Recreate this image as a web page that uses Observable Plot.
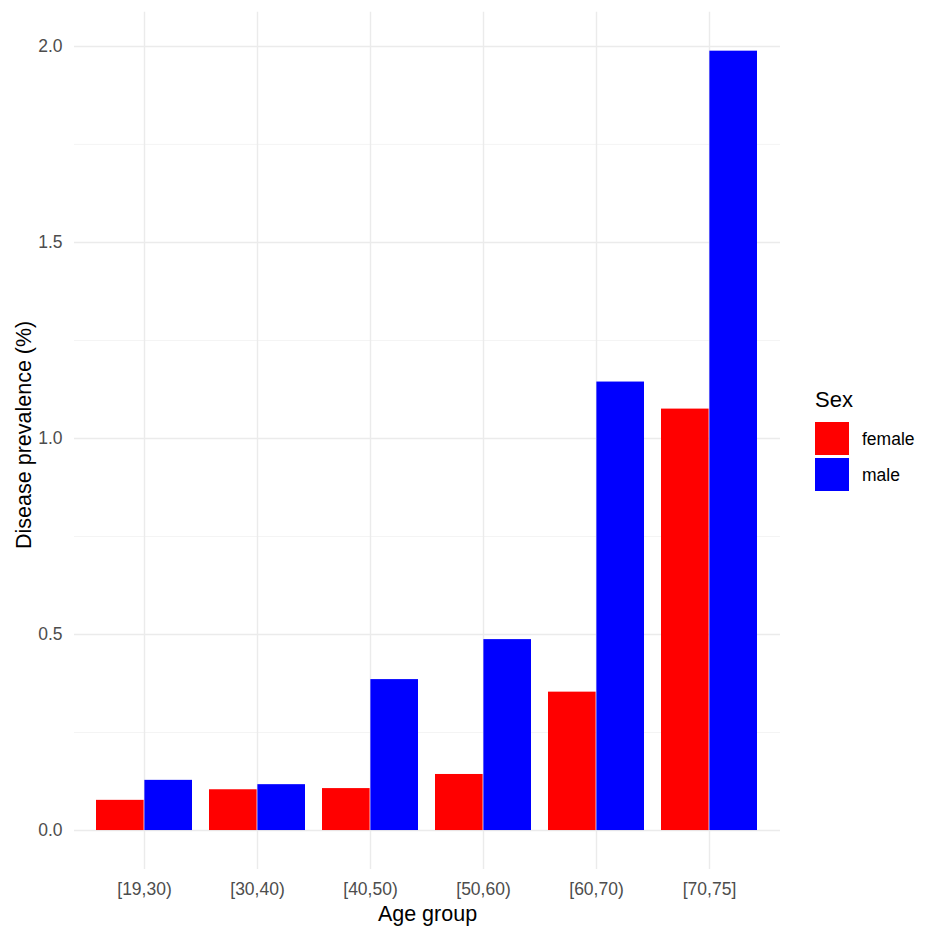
<!DOCTYPE html>
<html>
<head>
<meta charset="utf-8">
<script src="https://cdn.jsdelivr.net/npm/d3@7"></script>
<script src="https://cdn.jsdelivr.net/npm/@observablehq/plot@0.6"></script>
<style>
  body { margin: 0; background: #fff; font-family: "Liberation Sans", Arial, sans-serif; }
  #wrap { position: relative; width: 938px; height: 937px; }
  #legend { position: absolute; left: 815px; top: 389px; color: #000; }
  #legend .title { font-size: 22px; line-height: 22px; height: 33px; }
  #legend .row { display: flex; align-items: center; height: 33px; margin-bottom: 3px; }
  #legend .key { width: 34px; height: 33px; }
  #legend .lab { font-size: 17.5px; line-height: 17.5px; margin-left: 13px; padding-top: 3px; }
</style>
</head>
<body>
<div id="wrap"></div>
<script>
// ---- data ----
const ageGroups = ["[19,30)", "[30,40)", "[40,50)", "[50,60)", "[60,70)", "[70,75]"];
const femaleValues = [0.077, 0.104, 0.107, 0.143, 0.353, 1.075];
const maleValues   = [0.128, 0.117, 0.385, 0.487, 1.144, 1.988];
const sexes = ["female", "male"];
const sexColors = ["#ff0000", "#0000ff"];
const majorTicks = [0, 0.5, 1.0, 1.5, 2.0];
const minorTicks = [0.25, 0.75, 1.25, 1.75];
const xTitle = "Age group";
const yTitle = "Disease prevalence (%)";
const legendTitle = "Sex";

// ---- layout ----
const W = 938, H = 937;
const mL = 74, mR = 158, mT = 11.7, mB = 68;
const padIn = 0.15, padOut = 0.176;
const step = (W - mL - mR) / (ageGroups.length - padIn + 2 * padOut);
const bw = step * (1 - padIn);

const rows = [];
ageGroups.forEach((a, i) => {
  rows.push({age: a, sex: "female", value: femaleValues[i]});
  rows.push({age: a, sex: "male", value: maleValues[i]});
});

const chart = Plot.plot({
  width: W,
  height: H,
  marginLeft: mL,
  marginRight: mR,
  marginTop: mT,
  marginBottom: mB,
  style: {fontFamily: "Liberation Sans, Arial, sans-serif", background: "#fff"},
  x: {domain: ageGroups, paddingInner: padIn, paddingOuter: padOut, axis: null},
  y: {domain: [-0.0994, 2.0874], axis: null},
  color: {domain: sexes, range: sexColors},
  marks: [
    Plot.ruleY(minorTicks, {stroke: "#f3f3f3", strokeWidth: 0.9}),
    Plot.ruleY(majorTicks, {stroke: "#ebebeb", strokeWidth: 1.4}),
    Plot.ruleX(ageGroups, {stroke: "#ebebeb", strokeWidth: 1.4}),
    Plot.barY(rows.filter(d => d.sex === "female"), {x: "age", y: "value", fill: "sex", insetRight: bw / 2}),
    Plot.barY(rows.filter(d => d.sex === "male"), {x: "age", y: "value", fill: "sex", insetLeft: bw / 2}),
    Plot.axisX({tickSize: 0, tickPadding: 13, fontSize: 17.5, color: "#4d4d4d", label: null}),
    Plot.axisY({ticks: majorTicks, tickSize: 0, tickPadding: 12, fontSize: 17.5, color: "#4d4d4d",
                tickFormat: d3.format(".1f"), label: null}),
    Plot.text([xTitle], {frameAnchor: "bottom", dy: 44.8, fontSize: 21.5, fill: "#000", lineAnchor: "middle"}),
    Plot.text([yTitle], {frameAnchor: "left", rotate: -90, dx: -50, dy: -6, fontSize: 21.5, fill: "#000",
                         lineAnchor: "middle", textAnchor: "middle"})
  ]
});

const wrap = document.getElementById("wrap");
wrap.appendChild(chart);

const legend = document.createElement("div");
legend.id = "legend";
const t = document.createElement("div");
t.className = "title";
t.textContent = legendTitle;
legend.appendChild(t);
sexes.forEach((s, i) => {
  const r = document.createElement("div");
  r.className = "row";
  const k = document.createElement("div");
  k.className = "key";
  k.style.background = sexColors[i];
  const l = document.createElement("div");
  l.className = "lab";
  l.textContent = s;
  r.appendChild(k);
  r.appendChild(l);
  legend.appendChild(r);
});
wrap.appendChild(legend);
</script>
</body>
</html>
